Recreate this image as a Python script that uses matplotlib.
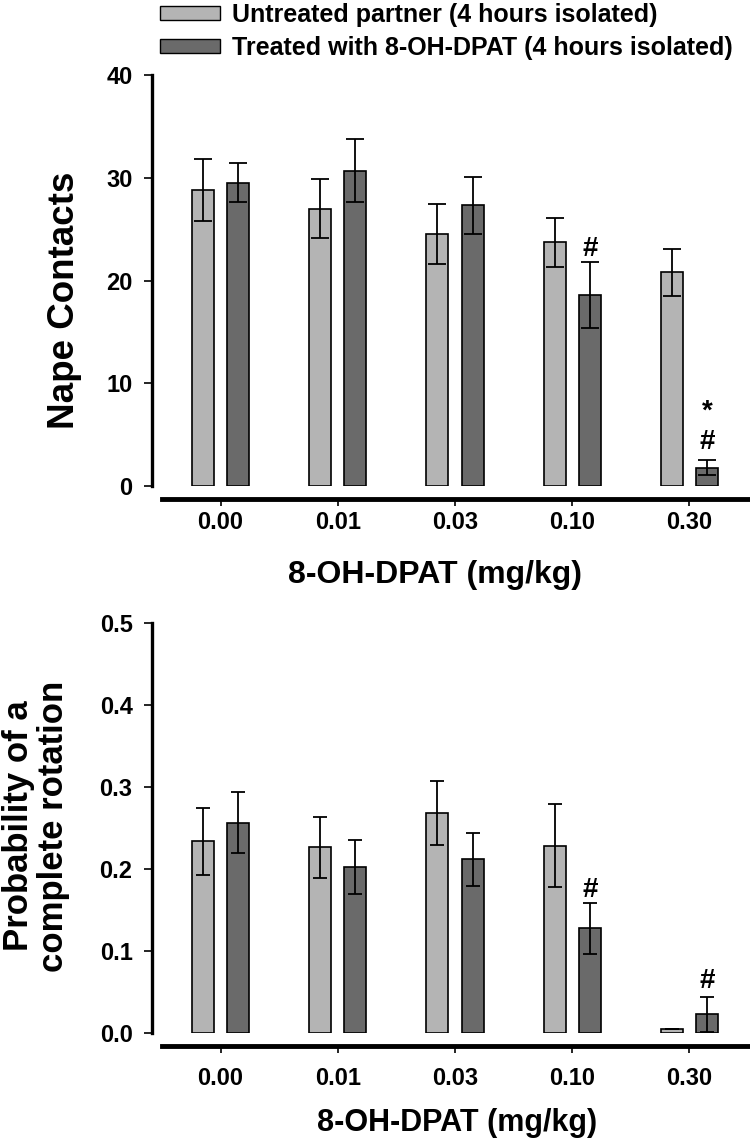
import matplotlib
matplotlib.use("Agg")
import matplotlib.pyplot as plt
import numpy as np
from matplotlib.patches import Patch

plt.rcParams['font.family'] = ['Liberation Sans', 'DejaVu Sans']
plt.rcParams['font.weight'] = 'bold'

doses = ["0.00", "0.01", "0.03", "0.10", "0.30"]
series_names = ["Untreated partner (4 hours isolated)",
                "Treated with 8-OH-DPAT (4 hours isolated)"]

nape_untreated = [28.8, 27.0, 24.5, 23.7, 20.8]
nape_untreated_err = [3.0, 2.9, 2.9, 2.4, 2.3]
nape_treated = [29.5, 30.7, 27.3, 18.6, 1.8]
nape_treated_err = [1.9, 3.1, 2.8, 3.2, 0.7]

rot_untreated = [0.234, 0.227, 0.269, 0.229, 0.005]
rot_untreated_err = [0.041, 0.037, 0.039, 0.051, 0.0]
rot_treated = [0.257, 0.203, 0.212, 0.128, 0.023]
rot_treated_err = [0.037, 0.033, 0.032, 0.031, 0.021]

# significance marks: (group index, label)
nape_marks = [(3, "#"), (4, "#"), (4, "*")]
rot_marks = [(3, "#"), (4, "#")]

light = "#b4b4b4"
dark = "#6a6a6a"

W, H = 750, 1141
fig = plt.figure(figsize=(W / 100, H / 100), dpi=100)

def px_axes(left, right, top, bottom):
    return fig.add_axes([left / W, (H - bottom) / H, (right - left) / W, (bottom - top) / H])

def draw(ax, a, a_err, b, b_err, ylim, yticks, fmt, capsize, marks, mark_offsets, xpad):
    x = np.arange(len(doses))
    bw = 0.188
    off = 0.15
    ax.bar(x - off, a, bw, color=light, edgecolor="black", linewidth=1.2, zorder=2)
    ax.bar(x + off, b, bw, color=dark, edgecolor="black", linewidth=1.2, zorder=2)
    ax.errorbar(x - off, a, yerr=a_err, fmt="none", ecolor="black", elinewidth=1.3,
                capsize=capsize, capthick=1.3, zorder=3)
    ax.errorbar(x + off, b, yerr=b_err, fmt="none", ecolor="black", elinewidth=1.3,
                capsize=capsize, capthick=1.3, zorder=3)
    for (i, lab), o in zip(marks, mark_offsets):
        ax.annotate(lab, xy=(x[i] + off, b[i] + b_err[i]), xytext=(0, o),
                    textcoords="offset points", ha="center", va="center",
                    fontsize=20, fontweight="bold")
    ax.set_xlim(-0.5, 4.5)
    ax.set_ylim(*ylim)
    ax.set_yticks(yticks)
    ax.set_yticklabels([fmt.format(v) for v in yticks])
    ax.set_xticks(x)
    ax.set_xticklabels(doses)
    ax.spines["top"].set_visible(False)
    ax.spines["right"].set_visible(False)
    ax.spines["left"].set_position(("outward", 7.2))
    ax.spines["left"].set_linewidth(2.4)
    ax.spines["bottom"].set_position(("outward", 9.0))
    ax.spines["bottom"].set_linewidth(3.5)
    ax.tick_params(axis="y", direction="out", length=5.5, width=1.2, pad=8.5, labelsize=17)
    ax.tick_params(axis="x", direction="out", length=5, width=1.2, pad=xpad, labelsize=17)
    for t in ax.get_xticklabels() + ax.get_yticklabels():
        t.set_fontweight("bold")
    ax.patch.set_visible(False)

ax1 = px_axes(162, 748, 75, 486)
draw(ax1, nape_untreated, nape_untreated_err, nape_treated, nape_treated_err,
     (0, 40), [0, 10, 20, 30, 40], "{:.0f}", 6.3, nape_marks, [9.5, 13, 35], 4.0)

ax2 = px_axes(162, 748, 623.3, 1033.3)
draw(ax2, rot_untreated, rot_untreated_err, rot_treated, rot_treated_err,
     (0, 0.5), [0.0, 0.1, 0.2, 0.3, 0.4, 0.5], "{:.1f}", 4.8, rot_marks, [9.5, 11.5], 10.5)

# axis labels
fig.text(435 / W, 1 - 575 / H, "8-OH-DPAT (mg/kg)", ha="center", va="center",
         fontsize=23, fontweight="bold")
fig.text(457 / W, 1 - 1123 / H, "8-OH-DPAT (mg/kg)", ha="center", va="center",
         fontsize=22, fontweight="bold")
fig.text(64 / W, 1 - 300 / H, "Nape Contacts", rotation=90, ha="center", va="center",
         fontsize=26.5, fontweight="bold")
fig.text(36 / W, 1 - 826 / H, "Probability of a\ncomplete rotation", rotation=90,
         ha="center", va="center", fontsize=25, fontweight="bold", linespacing=1.1)

handles = [Patch(facecolor=light, edgecolor="black", linewidth=1.0),
           Patch(facecolor=dark, edgecolor="black", linewidth=1.0)]
fig.legend(handles, series_names, loc="upper left", bbox_to_anchor=(160 / W, 1 - 3 / H),
           frameon=False, prop={"size": 18, "weight": "bold"}, handlelength=2.4,
           handleheight=0.45, handletextpad=0.5, labelspacing=0.35, borderpad=0,
           borderaxespad=0)

fig.savefig("out.png", dpi=100)
